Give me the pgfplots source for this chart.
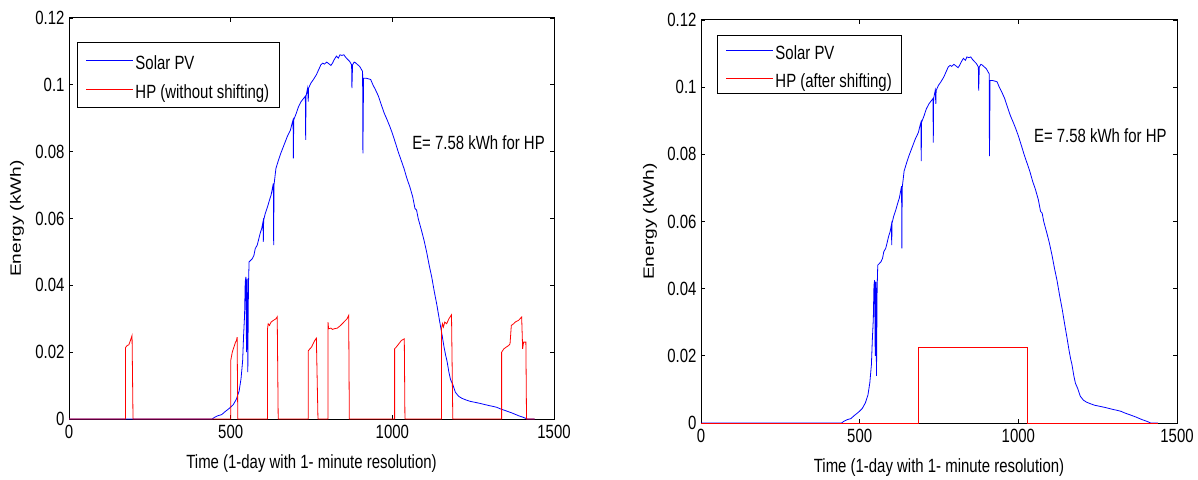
\documentclass[border=0pt]{standalone}
\usepackage{graphicx}
\usepackage{pgfplots}
\pgfplotsset{compat=1.18}
\usepackage{pgfplotstable}
\usepackage{fontspec}
\setmainfont{Liberation Sans}
\newcommand{\ff}{\fontsize{15}{18}\selectfont}
\newcommand{\vs}[1]{\scalebox{1}[1.28]{#1}}
\newcommand{\hs}[1]{\scalebox{1.28}[1]{#1}}

\pgfplotstableread{
x y
0 0
443 0
450 0.0005
461 0.0010
472 0.0013
484 0.0023
496 0.0032
508 0.0043
518 0.0060
526 0.0083
532 0.0120
537 0.0174
540 0.0250
543 0.0310
545 0.0410
547 0.0425
549 0.0200
551 0.0420
553 0.0140
555 0.0400
557 0.0470
562 0.0475
567 0.0480
572 0.0490
576 0.0510
582 0.0520
586 0.0535
591 0.0555
596 0.0570
600 0.0590
601 0.0530
602 0.0595
607 0.0615
614 0.0635
620 0.0655
625 0.0670
629 0.0690
632 0.0705
633 0.0520
634 0.0700
640 0.0750
648 0.0775
655 0.0795
661 0.0810
667 0.0825
675 0.0845
685 0.0865
690 0.0885
693 0.0895
694 0.0780
695 0.0895
703 0.0915
710 0.0935
718 0.0950
726 0.0960
731 0.0966
732 0.0835
733 0.0966
738 0.0990
740 0.0950
741 0.0990
748 0.1005
756 0.1016
765 0.1030
772 0.1045
779 0.1060
785 0.1065
790 0.1062
797 0.1068
805 0.1062
810 0.1058
815 0.1065
820 0.1075
827 0.1086
833 0.1080
838 0.1090
844 0.1088
850 0.1090
856 0.1082
862 0.1076
868 0.1070
874 0.1060
875 0.0990
877 0.1060
882 0.1068
886 0.1066
893 0.1060
899 0.1055
905 0.1045
908 0.1040
909 0.0795
911 0.1020
918 0.1020
926 0.1018
933 0.1016
940 0.1000
948 0.0985
957 0.0966
966 0.0940
975 0.0915
984 0.0895
992 0.0876
1000 0.0855
1010 0.0825
1018 0.0800
1027 0.0775
1036 0.0750
1045 0.0720
1054 0.0695
1063 0.0665
1068 0.0640
1070 0.0630
1075 0.0625
1080 0.0600
1090 0.0565
1098 0.0535
1106 0.0500
1114 0.0460
1122 0.0424
1130 0.0380
1138 0.0340
1146 0.0294
1154 0.0250
1160 0.0215
1165 0.0190
1169 0.0174
1175 0.0140
1180 0.0118
1187 0.0103
1195 0.0080
1205 0.0068
1215 0.0062
1228 0.0057
1240 0.0053
1255 0.0050
1270 0.0047
1287 0.0043
1300 0.0040
1310 0.0038
1323 0.0035
1335 0.0030
1350 0.0025
1370 0.0018
1390 0.0010
1405 0.0005
1417 0.0
1440 0
}\solar

\pgfplotstableread{
x y
0 0
175 0
175 0.0214
180 0.0220
185 0.0222
190 0.0235
195 0.0250
198 0
500 0
500 0.0174
505 0.0200
510 0.0215
515 0.0230
518 0.0235
520 0.0245
522 0
614 0
614 0.0270
616 0.0285
620 0.0280
625 0.0290
632 0.0295
640 0.0300
644 0.0306
647 0
740 0
740 0.0204
745 0.0210
750 0.0215
755 0.0225
760 0.0235
765 0.0242
770 0
801 0
801 0.0290
803 0.0270
810 0.0272
815 0.0268
820 0.0270
830 0.0272
840 0.0280
850 0.0290
860 0.0300
865 0.0310
867 0
1007 0
1007 0.0210
1012 0.0215
1020 0.0225
1028 0.0235
1037 0.0240
1039 0
1152 0
1152 0.0270
1155 0.0285
1158 0.0275
1162 0.0290
1168 0.0285
1175 0.0300
1183 0.0312
1187 0
1338 0
1338 0.0200
1345 0.0210
1352 0.0215
1360 0.0220
1364 0.0225
1368 0.0280
1375 0.0285
1380 0.0290
1390 0.0295
1400 0.0305
1403 0.0210
1406 0.0230
1413 0.0230
1415 0
1440 0
}\hpwithout

\pgfplotstableread{
x y
0 0
685 0
685 0.0224
1028 0.0224
1028 0
1440 0
}\hpafter

\pgfplotsset{
  matstyle/.style={
    set layers,
    scale only axis,
    xmin=0, xmax=1500, ymin=0, ymax=0.12,
    xtick={0,500,1000,1500}, xticklabels={\vs{0},\vs{500},\vs{1000},\vs{1500}},
    ytick={0,0.02,0.04,0.06,0.08,0.1,0.12},
    yticklabels={\vs{0},\vs{0.02},\vs{0.04},\vs{0.06},\vs{0.08},\vs{0.1},\vs{0.12}},
    scaled y ticks=false, scaled x ticks=false,
    tick align=inside, major tick length=4bp,
    axis line style={line width=1bp},
    tick style={black, line width=0.8bp},
    ticklabel style={font=\ff},
    xticklabel style={yshift=-3bp},
    yticklabel style={xshift=-1bp},
    label style={font=\ff},
    xlabel={\vs{Time (1-day with 1- minute resolution)}},
    ylabel={\hs{Energy (kWh)}},
    ylabel style={at={(axis description cs:-0.107,0.5)}, anchor=center},
    xlabel style={at={(axis description cs:0.5,-0.11)}, anchor=center},
    legend cell align=left,
    legend image code/.code={\draw[#1, line width=1bp] (0bp,0bp) -- (47bp,0bp);},
    legend style={draw=black, line width=1bp, font=\ff, row sep=0bp,
      inner xsep=8bp},
  }
}

\begin{document}
\begin{tikzpicture}
\path (0bp,0bp) rectangle (1198bp,474bp);
\begin{axis}[matstyle, at={(69bp,55bp)}, anchor=south west,
  width=485bp, height=401bp,
  legend style={at={(axis description cs:0.0165,0.94)}, anchor=north west, inner ysep=3.5bp,
    nodes={inner xsep=2pt, inner ysep=0pt, text height=23.4bp, text depth=5.6bp}}]
\addplot[blue, line width=0.8bp] table[x=x,y=y] {\solar};
\addlegendentry{\vs{Solar PV}}
\addplot[red, line width=0.8bp] table[x=x,y=y] {\hpwithout};
\addlegendentry{\vs{HP (without shifting)}}
\node[anchor=west, font=\ff, inner sep=0pt] at (axis cs:1061,0.0827) {\vs{E= 7.58 kWh for HP}};
\end{axis}
\begin{axis}[matstyle, at={(701bp,51bp)}, anchor=south west,
  width=476bp, height=403bp,
  legend style={at={(axis description cs:0.0336,0.963)}, anchor=north west, inner ysep=1bp,
    nodes={inner xsep=2pt, inner ysep=0pt, text height=22.9bp, text depth=5.1bp}}]
\addplot[blue, line width=0.8bp] table[x=x,y=y] {\solar};
\addlegendentry{\vs{Solar PV}}
\addplot[red, line width=0.8bp] table[x=x,y=y] {\hpafter};
\addlegendentry{\vs{HP (after shifting)}}
\node[anchor=west, font=\ff, inner sep=0pt] at (axis cs:1049,0.0856) {\vs{E= 7.58 kWh for HP}};
\end{axis}
\end{tikzpicture}
\end{document}
